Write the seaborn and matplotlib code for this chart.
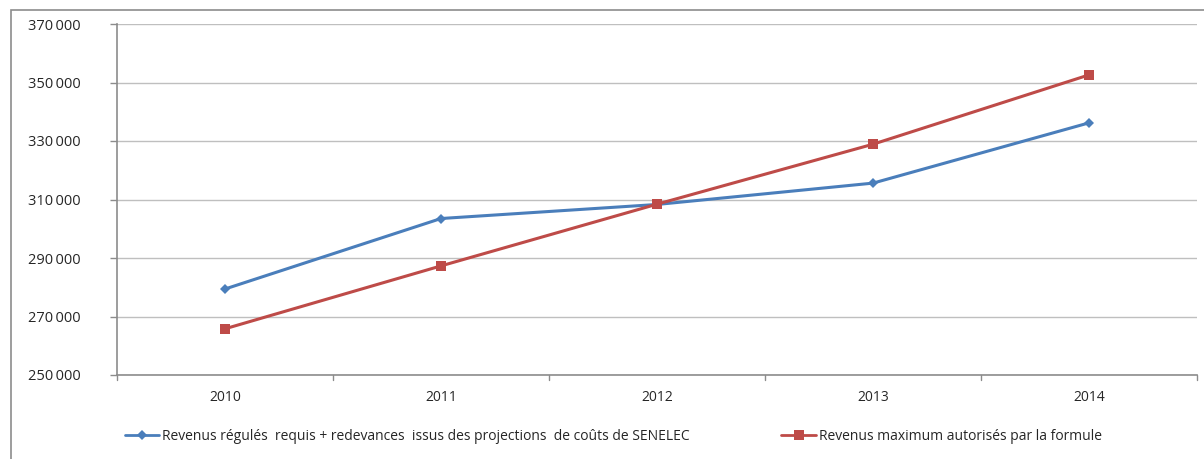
import matplotlib
matplotlib.use("Agg")
import matplotlib.pyplot as plt
import seaborn as sns
import pandas as pd
from matplotlib.patches import Rectangle
from matplotlib.lines import Line2D

years = ["2010", "2011", "2012", "2013", "2014"]
serie_bleue = [279400, 303500, 308300, 315600, 336200]
serie_rouge = [265800, 287300, 308400, 328900, 352600]
nom_bleue = "Revenus régulés  requis + redevances  issus des projections  de coûts de SENELEC"
nom_rouge = "Revenus maximum autorisés par la formule"
y_ticks = [250000, 270000, 290000, 310000, 330000, 350000, 370000]

sns.set_theme(style="white")
plt.rcParams['font.family'] = ['Open Sans', 'DejaVu Sans']

df = pd.DataFrame({
    "pos": list(range(len(years))) * 2,
    "val": serie_bleue + serie_rouge,
    "serie": [nom_bleue] * len(years) + [nom_rouge] * len(years),
})

fig = plt.figure(figsize=(12.04, 4.59), dpi=100)
ax = fig.add_axes([117 / 1204, 1 - 375 / 459, (1197 - 117) / 1204, (375 - 24) / 459])

palette = {nom_bleue: "#4A7EBB", nom_rouge: "#BE4B48"}
markers = {nom_bleue: "D", nom_rouge: "s"}
sns.lineplot(data=df, x="pos", y="val", hue="serie", style="serie",
             palette=palette, markers=markers, dashes=False, linewidth=2.2,
             markersize=6.5, markeredgewidth=0, ax=ax, legend=False)
for line in ax.lines:
    if line.get_marker() == "D":
        line.set_markersize(5.5)

ax.set_xlim(-0.5, 4.5)
ax.set_ylim(250000, 370000)
ax.set_yticks(y_ticks)
ax.set_yticklabels([f"{v:,}".replace(",", "\u2009") for v in y_ticks], fontsize=10.5)
ax.set_xticks(range(len(years)))
ax.set_xticklabels(years, fontsize=10)
ax.tick_params(axis="x", length=0, pad=11)
ax.tick_params(axis="y", length=5, width=1, color="#8C8C8C", pad=21, direction="out", left=True)
for b in [x - 0.5 for x in range(len(years) + 1)]:
    ax.plot([b, b], [250000, 250000 - 1600], color="#8C8C8C", lw=1, clip_on=False)
ax.grid(axis="y", color="#BFBFBF", lw=1)
ax.set_axisbelow(True)
ax.set_xlabel("")
ax.set_ylabel("")
for s in ["top", "right"]:
    ax.spines[s].set_visible(False)
ax.spines["left"].set_color("#8C8C8C")
ax.spines["bottom"].set_color("#8C8C8C")
ax.spines["left"].set_linewidth(1.2)
ax.spines["bottom"].set_linewidth(1.2)

h1 = Line2D([], [], color="#4A7EBB", lw=2, marker="D", markersize=5, markeredgewidth=0)
h2 = Line2D([], [], color="#BE4B48", lw=2, marker="s", markersize=6.5, markeredgewidth=0)
fig.legend([h1, h2], [nom_bleue, nom_rouge], loc="center left",
           bbox_to_anchor=(112 / 1204, 1 - 436 / 459), ncol=2, frameon=False,
           fontsize=10, columnspacing=6.6, handlelength=2.5, handletextpad=0.2)

fig.patches.append(Rectangle((11 / 1204, -0.1), 1.2, 1 - 10 / 459 + 0.1,
                             transform=fig.transFigure, fill=False,
                             edgecolor="#8C8C8C", lw=1.2))

fig.savefig("out.png", dpi=100, facecolor="white")
